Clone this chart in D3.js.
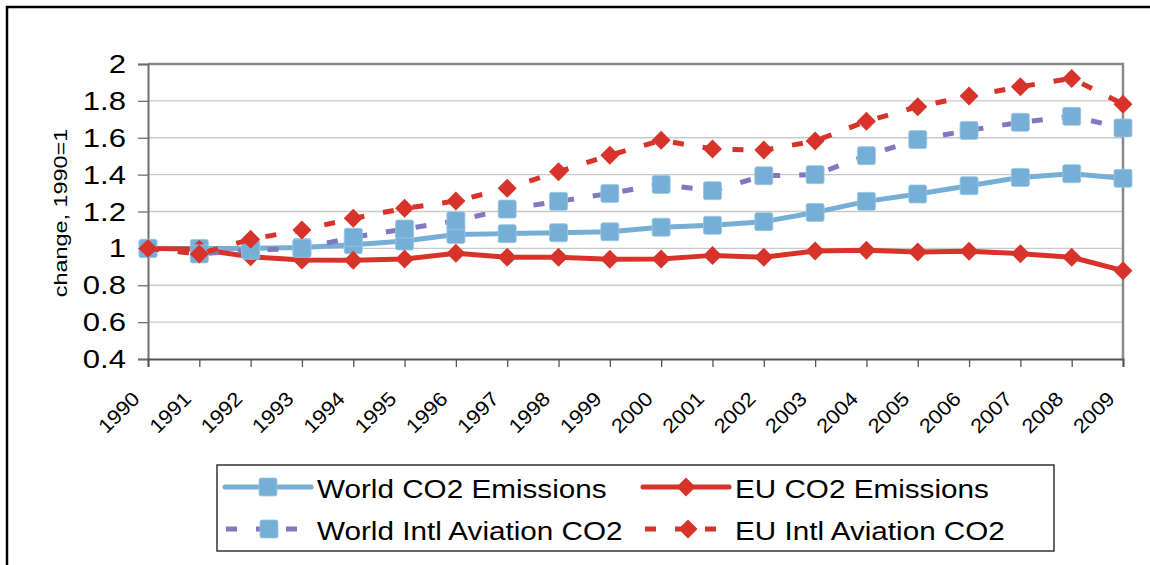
<!DOCTYPE html>
<html>
<head>
<meta charset="utf-8">
<script src="https://cdn.jsdelivr.net/npm/d3@7"></script>
<style>
  html, body { margin: 0; padding: 0; background: #fff; }
  svg { display: block; font-family: "Liberation Sans", Arial, sans-serif; }
</style>
</head>
<body>
<svg id="chart" width="1150" height="565"></svg>
<script>
// ---- data ----
const years = [1990,1991,1992,1993,1994,1995,1996,1997,1998,1999,2000,2001,2002,2003,2004,2005,2006,2007,2008,2009];
const worldCO2 = [1.00,1.00,1.00,1.005,1.02,1.04,1.075,1.08,1.085,1.09,1.115,1.125,1.145,1.195,1.255,1.295,1.34,1.385,1.405,1.38];
const euCO2 = [1.00,0.995,0.955,0.937,0.935,0.942,0.973,0.952,0.952,0.941,0.942,0.962,0.952,0.986,0.99,0.98,0.985,0.971,0.952,0.879];
const worldAviation = [1.00,0.97,0.99,1.00,1.06,1.105,1.15,1.213,1.255,1.298,1.347,1.313,1.394,1.40,1.503,1.59,1.64,1.684,1.716,1.653];
const euAviation = [1.00,0.97,1.049,1.10,1.163,1.217,1.257,1.326,1.416,1.505,1.586,1.539,1.533,1.582,1.69,1.768,1.826,1.877,1.922,1.782];
const yTicks = [0.4,0.6,0.8,1,1.2,1.4,1.6,1.8,2];
const seriesNames = ["World CO2 Emissions","EU CO2 Emissions","World Intl Aviation CO2","EU Intl Aviation CO2"];
const yAxisTitle = "change, 1990=1";

const BLUE = "#76AFD6", RED = "#D8332A", PURPLE = "#8079C0";
const series = [
  {name: seriesNames[0], values: worldCO2, line: BLUE, marker: "square", dash: null},
  {name: seriesNames[1], values: euCO2, line: RED, marker: "diamond", dash: null},
  {name: seriesNames[2], values: worldAviation, line: PURPLE, marker: "square", dash: "11,19"},
  {name: seriesNames[3], values: euAviation, line: RED, marker: "diamond", dash: "11,19"}
];

const svg = d3.select("#chart");
// outer frame (only left & top visible)
svg.append("rect").attr("x",7).attr("y",7).attr("width",1200).attr("height",700)
  .attr("fill","none").attr("stroke","#000").attr("stroke-width",2.5);

const L = 148, R = 1123, T = 64, B = 359;
const x = d3.scaleLinear().domain([years[0], years[years.length-1]]).range([L, R]);
const y = d3.scaleLinear().domain([0.4, 2]).range([B, T]);

// gridlines
svg.append("g").selectAll("line").data(yTicks.filter(d => d > 0.4)).join("line")
  .attr("x1", L).attr("x2", R).attr("y1", d => y(d)).attr("y2", d => y(d))
  .attr("stroke", "#c9c9c9").attr("stroke-width", 1.3);

// plot frame top/right
svg.append("path").attr("d", `M${L},${T}H${R}V${B}`).attr("fill","none")
  .attr("stroke","#8a8a8a").attr("stroke-width",2.5);

// y axis
const yAxis = d3.axisLeft(y).tickValues(yTicks).tickSize(10).tickFormat("");
const gy = svg.append("g").attr("transform", `translate(${L},0)`).call(yAxis);
gy.select(".domain").attr("stroke","#6e6e6e").attr("stroke-width",2);
gy.selectAll(".tick line").attr("stroke","#6e6e6e").attr("stroke-width",1.3);
svg.append("g").selectAll("text").data(yTicks).join("text")
  .attr("transform", d => `translate(126,${y(d) + 9}) scale(1.22,1)`)
  .attr("text-anchor","end").attr("font-size", 25.5).attr("fill","#000")
  .text(d => d3.format("")(+d.toFixed(1)));

// x axis
const xAxis = d3.axisBottom(x).tickValues(years).tickSize(8).tickFormat("");
const gx = svg.append("g").attr("transform", `translate(0,${B})`).call(xAxis);
gx.select(".domain").attr("stroke","#555").attr("stroke-width",2);
gx.selectAll(".tick line").attr("stroke","#555").attr("stroke-width",1.3);
svg.append("g").selectAll("text").data(years).join("text")
  .attr("transform", d => `translate(${x(d) - 7},400) rotate(-45) scale(1.1,1)`)
  .attr("text-anchor","end").attr("font-size", 20).attr("fill","#000")
  .text(d => d);

// y title
svg.append("text")
  .attr("transform", `translate(67,213) rotate(-90) scale(1.28,1)`)
  .attr("text-anchor","middle").attr("font-size",18.3).attr("fill","#000")
  .text(yAxisTitle);

// markers
function drawMarker(g, type, cx, cy, fill) {
  if (type === "square") {
    g.append("rect").attr("x", cx-9).attr("y", cy-9).attr("width",18).attr("height",18)
      .attr("rx",2).attr("fill", fill).attr("stroke","#9cc6e4").attr("stroke-width",0.8);
  } else {
    g.append("path").attr("d", `M${cx},${cy-9.5}L${cx+9.5},${cy}L${cx},${cy+9.5}L${cx-9.5},${cy}Z`)
      .attr("fill", fill);
  }
}

const line = d3.line().x((d,i) => x(years[i])).y(d => y(d));
series.forEach(s => {
  const g = svg.append("g");
  g.append("path").attr("d", line(s.values)).attr("fill","none")
    .attr("stroke", s.line).attr("stroke-width", 5)
    .attr("stroke-linejoin","round")
    .attr("stroke-linecap", s.dash ? "butt" : "round")
    .attr("stroke-dasharray", s.dash);
  s.values.forEach((v,i) => drawMarker(g, s.marker, x(years[i]), y(v), s.marker === "square" ? BLUE : RED));
});

// legend
svg.append("rect").attr("x",217).attr("y",465).attr("width",837).attr("height",86)
  .attr("fill","#fff").attr("stroke","#333").attr("stroke-width",1.5);
const legendPos = [
  {x0: 225, tx: 317, y: 487},
  {x0: 643, tx: 735, y: 487},
  {x0: 226, tx: 317, y: 529},
  {x0: 645, tx: 735, y: 529}
];
series.forEach((s, i) => {
  const p = legendPos[i];
  const g = svg.append("g");
  g.append("line").attr("x1", p.x0).attr("x2", p.x0 + 86).attr("y1", p.y).attr("y2", p.y)
    .attr("stroke", s.line).attr("stroke-width", 5)
    .attr("stroke-linecap", s.dash ? "butt" : "round")
    .attr("stroke-dasharray", s.dash);
  drawMarker(g, s.marker, p.x0 + 43, p.y, s.marker === "square" ? BLUE : RED);
  g.append("text").attr("transform", `translate(${p.tx},${p.y + 10.5}) scale(1.15,1)`)
    .attr("font-size", 25.8).attr("fill","#000").text(s.name);
});
</script>
</body>
</html>
